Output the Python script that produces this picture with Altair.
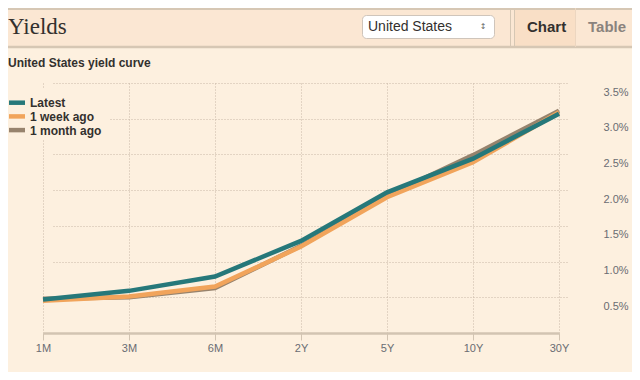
import altair as alt
import pandas as pd

# ---- data ----
maturities = ["1M", "3M", "6M", "2Y", "5Y", "10Y", "30Y"]
latest = [0.47, 0.59, 0.79, 1.29, 1.97, 2.44, 3.07]
week_ago = [0.45, 0.51, 0.65, 1.21, 1.90, 2.39, 3.09]
month_ago = [0.48, 0.50, 0.63, 1.22, 1.92, 2.49, 3.11]
series_names = ["Latest", "1 week ago", "1 month ago"]
series_colors = ["#26787a", "#f1a45b", "#97836d"]
y_ticks = [0.5, 1.0, 1.5, 2.0, 2.5, 3.0, 3.5]

header_title = "Yields"
subtitle = "United States yield curve"
dropdown_text = "United States"
tab_labels = ["Chart", "Table"]

BG = "#fdf0df"
HEADER_BG = "#fbe7d3"
TAB_BG = "#f9dfc6"
LINE_C = "#d6c7b4"
FONT = "Liberation Sans"
LABEL_C = "#6a6c72"

rows = []
for name, vals in zip(series_names, [latest, week_ago, month_ago]):
    for m, v in zip(maturities, vals):
        rows.append({"maturity": m, "yield": v, "series": name})
df = pd.DataFrame(rows)

color_scale = alt.Scale(domain=series_names, range=series_colors)

x_enc = alt.X(
    "maturity:N",
    sort=maturities,
    scale=alt.Scale(type="point", domain=maturities, range=[35, 551], padding=0),
    axis=alt.Axis(
        title=None, orient="bottom", grid=True, gridColor="#c9b9a6", gridDash=[1, 2],
        gridWidth=1, domainColor="#d2c4b2", domainWidth=2.5, ticks=True, tickSize=7,
        tickColor="#d2c4b2", labelPadding=2, labelFont=FONT, labelFontSize=11,
        labelColor=LABEL_C, labelAngle=0,
    ),
)
y_enc = alt.Y(
    "yield:Q",
    scale=alt.Scale(domain=[0, 3.5], nice=False, zero=True),
    axis=alt.Axis(
        title=None, orient="right", values=y_ticks, grid=True, gridColor="#c9b9a6",
        gridDash=[1, 2], gridWidth=1, domain=False, ticks=False, labelPadding=1,
        labelBaseline="top", labelOffset=3, labelFlush=False, labelOverlap=False,
        labelExpr="format(datum.value, '.1f') + '%'", labelFont=FONT,
        labelFontSize=11, labelColor=LABEL_C, labelAlign="left",
    ),
)

layers = []
for name in ["1 month ago", "1 week ago", "Latest"]:
    layers.append(
        alt.Chart(df)
        .transform_filter(alt.datum.series == name)
        .mark_line(strokeWidth=4.5, strokeCap="butt")
        .encode(
            x=x_enc,
            y=y_enc,
            color=alt.Color("series:N", scale=color_scale, legend=None),
        )
    )

# ---- manual legend (box covers gridlines, like the reference) ----
one = pd.DataFrame({"k": [0]})
legend_layers = [
    alt.Chart(one).mark_rect(color=BG).encode(
        x=alt.value(0), x2=alt.value(102), y=alt.value(5), y2=alt.value(57))
]
for i, name in enumerate(series_names):
    ly = 19.7 + 13.7 * i
    d = pd.DataFrame({"series": [name]})
    legend_layers.append(
        alt.Chart(d).mark_rule(strokeWidth=4.5).encode(
            x=alt.value(1), x2=alt.value(17), y=alt.value(ly),
            color=alt.Color("series:N", scale=color_scale, legend=None),
        )
    )
    legend_layers.append(
        alt.Chart(d).mark_text(
            font=FONT, fontSize=12, fontWeight="bold", color="#33302e",
            align="left", baseline="middle",
        ).encode(text="series:N", x=alt.value(22), y=alt.value(ly + 0.5))
    )

# ---- header ----
header_bg = alt.Chart(one).mark_rect(color=HEADER_BG).encode(
    x=alt.value(0), x2=alt.value(624), y=alt.value(-75), y2=alt.value(-36))
tab_bg = alt.Chart(one).mark_rect(color=TAB_BG).encode(
    x=alt.value(507), x2=alt.value(567), y=alt.value(-75), y2=alt.value(-36))
top_line = alt.Chart(one).mark_rule(color=LINE_C, strokeWidth=2).encode(
    x=alt.value(0), x2=alt.value(624), y=alt.value(-74))
bottom_line = alt.Chart(one).mark_rule(color=LINE_C, strokeWidth=2.5).encode(
    x=alt.value(0), x2=alt.value(624), y=alt.value(-36))
sep1 = alt.Chart(one).mark_rule(color=LINE_C, strokeWidth=1).encode(
    x=alt.value(502.5), y=alt.value(-75), y2=alt.value(-36))
sep2 = alt.Chart(one).mark_rule(color=LINE_C, strokeWidth=1).encode(
    x=alt.value(506.5), y=alt.value(-75), y2=alt.value(-36))
sep3 = alt.Chart(one).mark_rule(color="#ecd6c0", strokeWidth=1).encode(
    x=alt.value(567.5), y=alt.value(-75), y2=alt.value(-36))

title_t = alt.Chart(pd.DataFrame({"t": [header_title]})).mark_text(
    font="Liberation Serif", fontSize=23, color="#33302e", align="left", baseline="alphabetic"
).encode(text="t:N", x=alt.value(0), y=alt.value(-49))

dd_box = alt.Chart(one).mark_rect(
    color="#ffffff", stroke="#cfc5bb", strokeWidth=1, cornerRadius=4
).encode(x=alt.value(354.5), x2=alt.value(486.5), y=alt.value(-67.5), y2=alt.value(-44.5))
dd_text = alt.Chart(pd.DataFrame({"t": [dropdown_text]})).mark_text(
    font=FONT, fontSize=14, color="#33302e", align="left", baseline="middle"
).encode(text="t:N", x=alt.value(360), y=alt.value(-56))
dd_arrow = alt.Chart(pd.DataFrame({"t": ["\u2195"]})).mark_text(
    font="DejaVu Sans", fontSize=8, color="#666666", align="center", baseline="middle"
).encode(text="t:N", x=alt.value(475), y=alt.value(-56))

tab_chart = alt.Chart(pd.DataFrame({"t": [tab_labels[0]]})).mark_text(
    font=FONT, fontSize=15, fontWeight="bold", color="#33302e", align="left", baseline="middle"
).encode(text="t:N", x=alt.value(519), y=alt.value(-56))
tab_table = alt.Chart(pd.DataFrame({"t": [tab_labels[1]]})).mark_text(
    font=FONT, fontSize=15, fontWeight="bold", color="#8a837d", align="left", baseline="middle"
).encode(text="t:N", x=alt.value(580), y=alt.value(-56))

sub_t = alt.Chart(pd.DataFrame({"t": [subtitle]})).mark_text(
    font=FONT, fontSize=12, fontWeight="bold", color="#33302e", align="left", baseline="middle"
).encode(text="t:N", x=alt.value(0), y=alt.value(-20))

chart = alt.layer(
    header_bg, tab_bg, top_line, bottom_line, sep1, sep2, sep3,
    title_t, dd_box, dd_text, dd_arrow, tab_chart, tab_table, sub_t,
    *layers, *legend_layers,
).properties(
    width=594, height=250,
    autosize=alt.AutoSizeParams(type="none"),
    padding={"left": 0, "top": 75, "right": 30, "bottom": 39},
    background=BG,
).configure_view(stroke=None)

chart.save("out.html", embed_options={"renderer": "svg", "actions": False})
